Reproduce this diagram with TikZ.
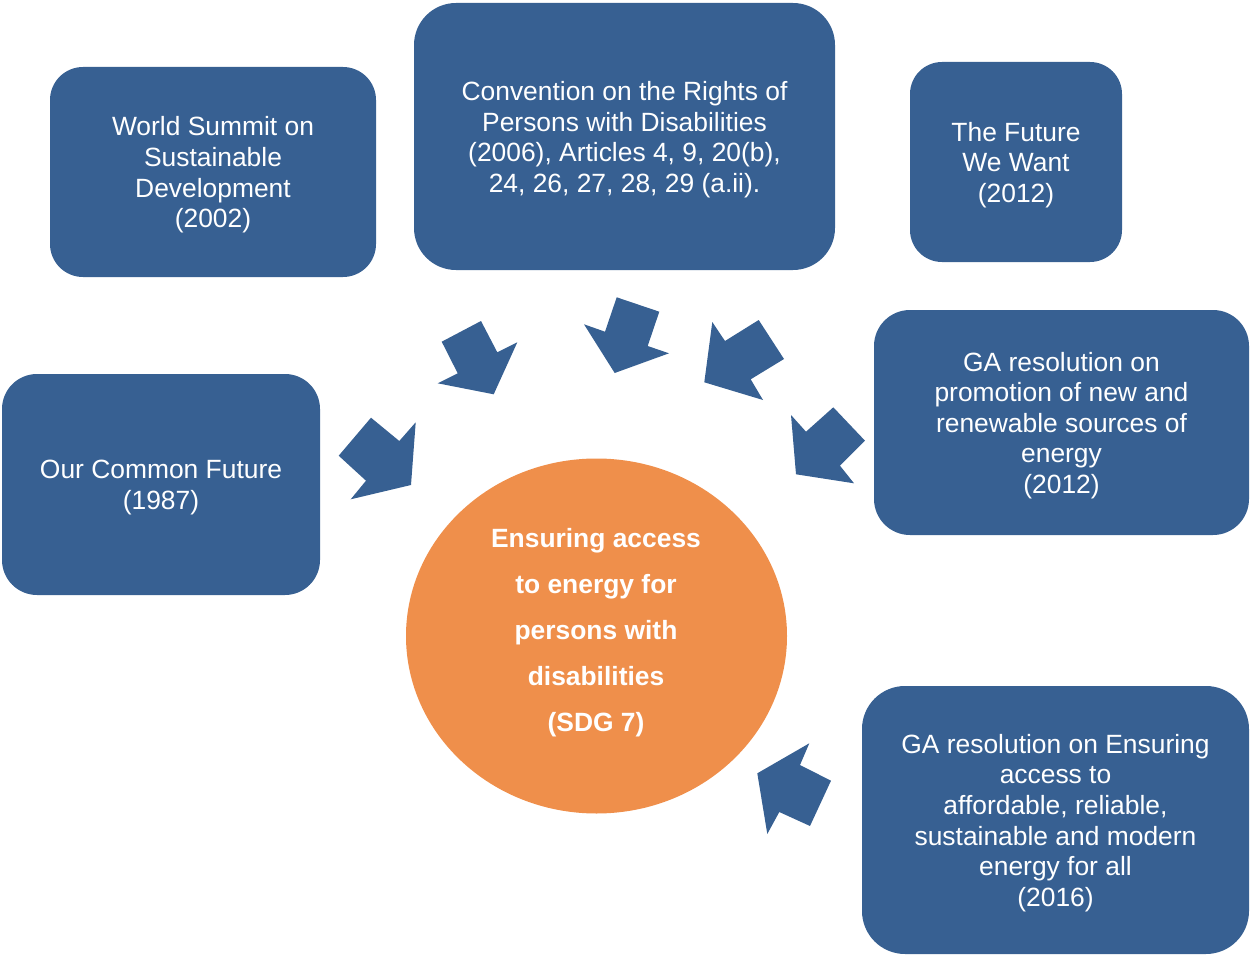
\documentclass[tikz,border=0pt]{standalone}
\usepackage{fontspec}
\setmainfont{Liberation Sans}
\newlength{\px}\setlength{\px}{0.75pt}
\definecolor{boxblue}{HTML}{376092}
\definecolor{circorange}{HTML}{EF8F4B}
\usetikzlibrary{shapes.geometric}
\tikzset{
  srcbox/.style={fill=boxblue, draw=none, inner sep=0pt},
  srctext/.style={text=white, align=center, inner sep=0pt,
    font=\fontsize{19.8pt}{22.95pt}\selectfont},
  goal/.style={fill=circorange, draw=none, ellipse, inner sep=0pt},
  goaltext/.style={text=white, align=center, inner sep=0pt,
    font=\fontsize{19.8pt}{34.5pt}\selectfont\bfseries},
  blockarrow/.style={fill=boxblue, draw=none}
}
\begin{document}
\begin{tikzpicture}[x=\px,y=-\px]
\useasboundingbox (0,0) rectangle (1250,956);
% boxes
\node[srcbox, minimum width=326\px, minimum height=210\px, rounded corners=33\px] (wssd) at (213,172) {};
\node[srctext] (wssdt) at (213,175) {World Summit on\\Sustainable\\Development\\(2002)};
\node[srcbox, minimum width=421\px, minimum height=267\px, rounded corners=42\px] (crpd) at (624.5,136.5) {};
\node[srctext] (crpdt) at (624.5,139.5)
  {Convention on the Rights of\\Persons with Disabilities\\(2006), Articles 4, 9, 20(b),\\24, 26, 27, 28, 29 (a.ii).};
\node[srcbox, minimum width=212\px, minimum height=200\px, rounded corners=32\px] (fww) at (1016,162) {};
\node[srctext] (fwwt) at (1016,165) {The Future\\We Want\\(2012)};
\node[srcbox, minimum width=375\px, minimum height=225\px, rounded corners=36\px] (garen) at (1061.5,422.5) {};
\node[srctext] (garent) at (1061.5,425.5)
  {GA resolution on\\promotion of new and\\renewable sources of\\energy\\(2012)};
\node[srcbox, minimum width=318\px, minimum height=221\px, rounded corners=35\px] (ocf) at (161,484.5) {};
\node[srctext] (ocft) at (161,487.5) {Our Common Future\\(1987)};
\node[srcbox, minimum width=387\px, minimum height=268\px, rounded corners=43\px] (gaens) at (1055.5,820) {};
\node[srctext] (gaenst) at (1055.5,823)
  {GA resolution on Ensuring\\access to\\affordable, reliable,\\sustainable and modern\\energy for all\\(2016)};
% centre
\node[goal, minimum width=381\px, minimum height=355\px] (sdg) at (596.5,636) {};
\node[goaltext] (sdgtext) at (596,633)
  {Ensuring access\\to energy for\\persons with\\disabilities\\(SDG 7)};
% block arrows
\fill[blockarrow] (371,417.7) -- (399.3,441) -- (415.7,422.3) -- (411,485) -- (350.7,499.3) -- (366,480.7) -- (338.7,455.7) -- cycle;
\fill[blockarrow] (481,321) -- (497.3,352.3) -- (517.3,342.3) -- (493.7,394.3) -- (437.7,383.3) -- (457.7,373.3) -- (441.7,341.7) -- cycle;
\fill[blockarrow] (616.7,297.3) -- (659.3,311.7) -- (647.7,346) -- (669,353.3) -- (614.7,373) -- (584,324.3) -- (605,331.7) -- cycle;
\fill[blockarrow] (758.7,320) -- (784,359) -- (750.7,379.3) -- (763,400) -- (704.3,382.3) -- (712.3,322) -- (725,341) -- cycle;
\fill[blockarrow] (833.3,407.3) -- (865,440.7) -- (840,465.7) -- (854,483.3) -- (796,474.3) -- (791,415) -- (806,431.7) -- cycle;
\fill[blockarrow] (809.3,743.3) -- (800,765) -- (831,780.7) -- (810,826) -- (779.3,812) -- (767.3,834) -- (757.3,773.3) -- cycle;
\end{tikzpicture}
\end{document}
